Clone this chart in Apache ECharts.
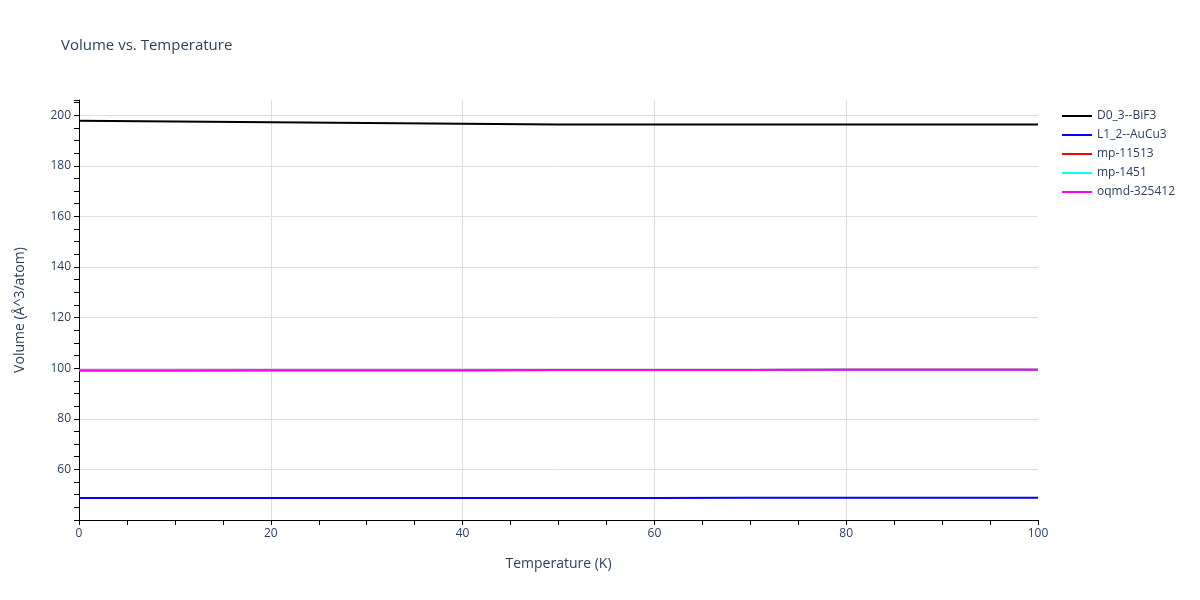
<!DOCTYPE html>
<html>
<head>
<meta charset="utf-8">
<script src="https://cdn.jsdelivr.net/npm/echarts@6/dist/echarts.min.js"></script>
<style>html,body{margin:0;padding:0;background:#fff}#c{width:1200px;height:600px}</style>
</head>
<body>
<div id="c"></div>
<script>
const temperatures = [0, 10, 20, 30, 40, 50, 60, 70, 80, 90, 100];
const seriesNames = ['D0_3--BiF3', 'L1_2--AuCu3', 'mp-11513', 'mp-1451', 'oqmd-325412'];
const seriesColors = ['#000000', '#0000ff', '#ff0000', '#00ffff', '#ff00ff'];
const volD03 = [197.8, 197.55, 197.25, 196.95, 196.65, 196.3, 196.3, 196.3, 196.3, 196.3, 196.3];
const volL12 = [48.7, 48.7, 48.7, 48.7, 48.72, 48.73, 48.74, 48.75, 48.76, 48.78, 48.8];
const volMp11513 = [99.1, 99.13, 99.16, 99.19, 99.22, 99.25, 99.28, 99.31, 99.34, 99.37, 99.4];
const volMp1451 = [99.1, 99.13, 99.16, 99.19, 99.22, 99.25, 99.28, 99.31, 99.34, 99.37, 99.4];
const volOqmd = [99.1, 99.13, 99.16, 99.19, 99.22, 99.25, 99.28, 99.31, 99.34, 99.37, 99.4];
const xTickLabels = [0, 20, 40, 60, 80, 100];
const yTickLabels = [60, 80, 100, 120, 140, 160, 180, 200];

const allValues = [volD03, volL12, volMp11513, volMp1451, volOqmd];
const font = '"Open Sans", verdana, arial, sans-serif';
const textColor = '#2a3f5f';
const gridColor = '#dedede';
const clear = 'rgba(0,0,0,0)';

const chart = echarts.init(document.getElementById('c'));
chart.setOption({
  animation: false,
  backgroundColor: '#fff',
  textStyle: { fontFamily: font },
  title: {
    text: 'Volume vs. Temperature',
    left: 56, top: 33,
    textStyle: { fontFamily: font, fontSize: 15, fontWeight: 'normal', color: textColor }
  },
  legend: {
    orient: 'vertical',
    left: 1057, top: 105,
    itemWidth: 30, itemHeight: 2, itemGap: 7,
    textStyle: { fontFamily: font, fontSize: 12, color: textColor },
    data: seriesNames.map(n => ({ name: n, icon: 'rect' }))
  },
  grid: { left: 79, right: 162, top: 100, bottom: 80 },
  xAxis: {
    type: 'value', min: 0, max: 100, interval: 5,
    name: 'Temperature (K)', nameLocation: 'middle', nameGap: 37,
    nameTextStyle: { fontFamily: font, fontSize: 14, color: textColor },
    axisLine: { show: true, lineStyle: { color: '#000', width: 1 } },
    axisTick: { show: true, inside: false, length: 5, lineStyle: { color: '#000' } },
    axisLabel: {
      fontFamily: font, fontSize: 12, color: textColor, margin: 8,
      formatter: v => (xTickLabels.includes(v) ? String(v) : '')
    },
    splitLine: { show: true, showMaxLine: false, lineStyle: { color: [gridColor, clear, clear, clear], width: 1 } }
  },
  yAxis: {
    type: 'value', min: 40, max: 206, interval: 5,
    name: 'Volume (Å^3/atom)', nameLocation: 'middle', nameGap: 52, nameRotate: 90,
    nameTextStyle: { fontFamily: font, fontSize: 14, color: textColor },
    axisLine: { show: true, lineStyle: { color: '#000', width: 1 } },
    axisTick: { show: true, inside: false, length: 5, lineStyle: { color: '#000' } },
    axisLabel: {
      fontFamily: font, fontSize: 12, color: textColor, margin: 8,
      formatter: v => (yTickLabels.includes(v) ? String(v) : '')
    },
    splitLine: { show: true, showMaxLine: false, lineStyle: { color: [gridColor, clear, clear, clear], width: 1 } }
  },
  series: seriesNames.map((name, i) => ({
    name: name,
    type: 'line',
    showSymbol: false,
    symbol: 'none',
    lineStyle: { color: seriesColors[i], width: 2 },
    itemStyle: { color: seriesColors[i] },
    data: temperatures.map((t, j) => [t, allValues[i][j]])
  }))
});
</script>
</body>
</html>
